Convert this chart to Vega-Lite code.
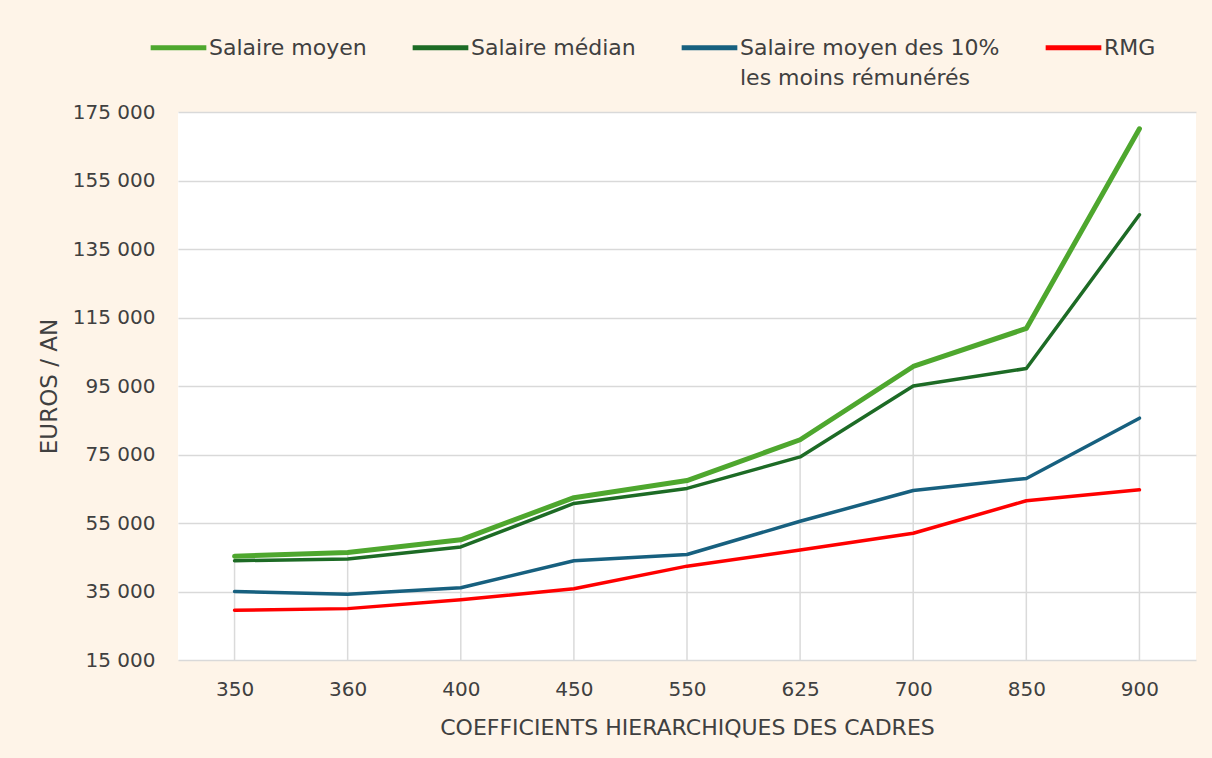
{
  "$schema": "https://vega.github.io/schema/vega-lite/v6.json",
  "width": 1018,
  "height": 548,
  "autosize": {"type": "none"},
  "padding": {"left": 178, "top": 112, "right": 16, "bottom": 98},
  "background": "#FEF4E8",
  "config": {
    "view": {"fill": "white", "stroke": null},
    "font": "DejaVu Sans",
    "axis": {"labelColor": "#404040", "titleColor": "#404040", "labelFont": "DejaVu Sans", "titleFont": "DejaVu Sans", "titleFontWeight": "normal"},
    "legend": {"labelColor": "#404040", "labelFont": "DejaVu Sans"}
  },
  "data": {
    "values": [
      {"coef": 350, "serie": "Salaire moyen", "valeur": 45300},
      {"coef": 360, "serie": "Salaire moyen", "valeur": 46400},
      {"coef": 400, "serie": "Salaire moyen", "valeur": 50100},
      {"coef": 450, "serie": "Salaire moyen", "valeur": 62400},
      {"coef": 550, "serie": "Salaire moyen", "valeur": 67400},
      {"coef": 625, "serie": "Salaire moyen", "valeur": 79300},
      {"coef": 700, "serie": "Salaire moyen", "valeur": 100700},
      {"coef": 850, "serie": "Salaire moyen", "valeur": 111800},
      {"coef": 900, "serie": "Salaire moyen", "valeur": 170100},
      {"coef": 350, "serie": "Salaire médian", "valeur": 44000},
      {"coef": 360, "serie": "Salaire médian", "valeur": 44500},
      {"coef": 400, "serie": "Salaire médian", "valeur": 48000},
      {"coef": 450, "serie": "Salaire médian", "valeur": 60700},
      {"coef": 550, "serie": "Salaire médian", "valeur": 65100},
      {"coef": 625, "serie": "Salaire médian", "valeur": 74300},
      {"coef": 700, "serie": "Salaire médian", "valeur": 95000},
      {"coef": 850, "serie": "Salaire médian", "valeur": 100100},
      {"coef": 900, "serie": "Salaire médian", "valeur": 145000},
      {"coef": 350, "serie": "Salaire moyen des 10% les moins rémunérés", "valeur": 35000},
      {"coef": 360, "serie": "Salaire moyen des 10% les moins rémunérés", "valeur": 34200},
      {"coef": 400, "serie": "Salaire moyen des 10% les moins rémunérés", "valeur": 36100},
      {"coef": 450, "serie": "Salaire moyen des 10% les moins rémunérés", "valeur": 44000},
      {"coef": 550, "serie": "Salaire moyen des 10% les moins rémunérés", "valeur": 45800},
      {"coef": 625, "serie": "Salaire moyen des 10% les moins rémunérés", "valeur": 55500},
      {"coef": 700, "serie": "Salaire moyen des 10% les moins rémunérés", "valeur": 64500},
      {"coef": 850, "serie": "Salaire moyen des 10% les moins rémunérés", "valeur": 68000},
      {"coef": 900, "serie": "Salaire moyen des 10% les moins rémunérés", "valeur": 85600},
      {"coef": 350, "serie": "RMG", "valeur": 29500},
      {"coef": 360, "serie": "RMG", "valeur": 30000},
      {"coef": 400, "serie": "RMG", "valeur": 32600},
      {"coef": 450, "serie": "RMG", "valeur": 35800},
      {"coef": 550, "serie": "RMG", "valeur": 42400},
      {"coef": 625, "serie": "RMG", "valeur": 47100},
      {"coef": 700, "serie": "RMG", "valeur": 52000},
      {"coef": 850, "serie": "RMG", "valeur": 61500},
      {"coef": 900, "serie": "RMG", "valeur": 64700}
    ]
  },
  "encoding": {
    "x": {
      "field": "coef",
      "type": "ordinal",
      "scale": {"type": "point", "padding": 0.5},
      "axis": {
        "title": "COEFFICIENTS HIERARCHIQUES DES CADRES",
        "labelAngle": 0,
        "labelFontSize": 20,
        "labelPadding": 19,
        "titleFontSize": 22,
        "titlePadding": 18,
        "domain": false,
        "ticks": false,
        "grid": false
      }
    }
  },
  "layer": [
    {
      "transform": [{"filter": "datum.serie == 'Salaire moyen'"}],
      "mark": {"type": "rule", "color": "#DADADA", "strokeWidth": 1.5},
      "encoding": {
        "y": {"field": "valeur", "type": "quantitative"},
        "y2": {"datum": 15000}
      }
    },
    {
      "mark": {"type": "line", "strokeCap": "round", "strokeJoin": "round"},
      "encoding": {
        "y": {
          "field": "valeur",
          "type": "quantitative",
          "scale": {"domain": [15000, 175000], "nice": false, "zero": false},
          "axis": {
            "title": "EUROS / AN",
            "values": [15000, 35000, 55000, 75000, 95000, 115000, 135000, 155000, 175000],
            "labelExpr": "replace(format(datum.value, ','), ',', ' ')",
            "labelFontSize": 20,
            "labelPadding": 23,
            "titleFontSize": 23,
            "titlePadding": 11,
            "domain": false,
            "ticks": false,
            "grid": true,
            "gridColor": "#D9D9D9",
            "gridWidth": 1.5
          }
        },
        "color": {
          "field": "serie",
          "type": "nominal",
          "scale": {
            "domain": ["Salaire moyen", "Salaire médian", "Salaire moyen des 10% les moins rémunérés", "RMG"],
            "range": ["#4EA72E", "#1D6B25", "#17607F", "#FF0000"]
          },
          "legend": {
            "title": null,
            "orient": "none",
            "legendX": -30,
            "legendY": -95,
            "direction": "horizontal",
            "columns": 4,
            "symbolType": "stroke",
            "symbolSize": 3100,
            "symbolStrokeWidth": 5,
            "labelFontSize": 22,
            "labelOffset": 0,
            "columnPadding": 35,
            "labelLimit": 400,
            "labelExpr": "datum.label == 'Salaire moyen des 10% les moins rémunérés' ? ['Salaire moyen des 10%', '\u2009les moins rémunérés'] : [datum.label, '\u00a0']",
            "encode": {"labels": {"update": {"lineHeight": {"value": 30}}}}
          }
        },
        "strokeWidth": {
          "condition": {"test": "datum.serie == 'Salaire moyen'", "value": 5},
          "value": 3.5
        },
        "order": {"field": "coef", "type": "quantitative"}
      }
    }
  ]
}
